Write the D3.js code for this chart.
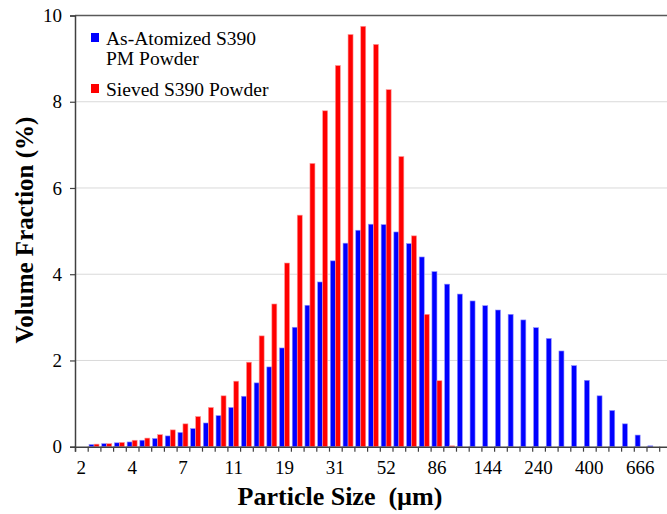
<!DOCTYPE html>
<html>
<head>
<meta charset="utf-8">
<script src="https://cdn.jsdelivr.net/npm/d3@7"></script>
<style>
  body { margin: 0; background: #fff; }
  text { font-family: "Liberation Serif", "Times New Roman", serif; }
</style>
</head>
<body>
<div id="chart"></div>
<script>
// particle size classes (only every 4th one is labelled on the axis)
var nClasses = 47;
var tickLabels = ["2", "4", "7", "11", "19", "31", "52", "86", "144", "240", "400", "666"];

// volume fraction (%) per size class
var atomized = [0, 0.05, 0.07, 0.09, 0.11, 0.15, 0.19, 0.25, 0.33, 0.42, 0.55, 0.72, 0.91, 1.17,
    1.48, 1.85, 2.29, 2.77, 3.28, 3.82, 4.31, 4.72, 5.02, 5.16, 5.15, 4.98, 4.71, 4.40, 4.06,
    3.77, 3.54, 3.38, 3.27, 3.17, 3.07, 2.94, 2.76, 2.51, 2.22, 1.88, 1.54, 1.18, 0.84, 0.53,
    0.27, 0.02, 0];
var sieved = [0, 0.06, 0.07, 0.10, 0.15, 0.20, 0.28, 0.39, 0.53, 0.70, 0.91, 1.18, 1.52, 1.96,
    2.57, 3.31, 4.26, 5.37, 6.57, 7.79, 8.84, 9.56, 9.75, 9.33, 8.28, 6.73, 4.89, 3.07, 1.53,
    0.02, 0, 0, 0, 0, 0, 0, 0, 0, 0, 0, 0, 0, 0, 0, 0, 0, 0];

var seriesNames = ["As-Atomized S390\nPM Powder", "Sieved S390 Powder"];
var seriesColors = ["#0000ff", "#ff0000"];
var seriesStroke = ["#8f8fff", "#ff9a9a"];

var width = 667, height = 514;
var plotLeft = 75, plotTop = 15.5, plotBottom = 446.7;
var step = 12.7;
var plotRight = plotLeft + step * nClasses;

var svg = d3.select("#chart")
    .append("svg")
    .attr("width", width)
    .attr("height", height);

var cats = d3.range(nClasses);

var x = d3.scaleBand()
    .domain(cats)
    .range([plotLeft, plotRight])
    .paddingInner(0)
    .paddingOuter(0);

var x1 = d3.scaleBand()
    .domain([0, 1])
    .range([0, x.bandwidth()])
    .paddingInner(0)
    .paddingOuter(0.27);

var y = d3.scaleLinear()
    .domain([0, 10])
    .range([plotBottom, plotTop]);

// gridlines
svg.append("g")
    .selectAll("line")
    .data([2, 4, 6, 8])
    .join("line")
    .attr("x1", plotLeft)
    .attr("x2", plotRight)
    .attr("y1", function(d) { return y(d); })
    .attr("y2", function(d) { return y(d); })
    .attr("stroke", "#d9d9d9")
    .attr("stroke-width", 1);

// top border
svg.append("line")
    .attr("x1", plotLeft).attr("x2", plotRight)
    .attr("y1", y(10)).attr("y2", y(10))
    .attr("stroke", "#595959")
    .attr("stroke-width", 1.5);

// bars
var rows = cats.map(function(i) { return [atomized[i], sieved[i]]; });

svg.append("g")
    .selectAll("g")
    .data(rows)
    .join("g")
    .attr("transform", function(d, i) { return "translate(" + x(i) + ",0)"; })
    .selectAll("rect")
    .data(function(d) { return d; })
    .join("rect")
    .attr("x", function(d, s) { return x1(s); })
    .attr("width", x1.bandwidth())
    .attr("y", function(d) { return y(d); })
    .attr("height", function(d) { return y(0) - y(d); })
    .attr("fill", function(d, s) { return seriesColors[s]; })
    .attr("stroke", function(d, s) { return seriesStroke[s]; })
    .attr("stroke-width", function(d) { return d > 0 ? 0.6 : 0; });

// y axis
var yAxis = svg.append("g")
    .attr("transform", "translate(" + plotLeft + ",0)")
    .call(d3.axisLeft(y).tickValues([0, 2, 4, 6, 8, 10]).tickSize(5).tickPadding(8));
yAxis.select(".domain").attr("stroke", "#404040").attr("stroke-width", 1.5);
yAxis.selectAll(".tick line").attr("stroke", "#404040").attr("stroke-width", 1.2);
yAxis.selectAll(".tick text").attr("font-size", 19).attr("fill", "#000");

// x axis: ticks on class boundaries
var xb = d3.scaleLinear().domain([0, nClasses]).range([plotLeft, plotRight]);
var xTicks = svg.append("g")
    .attr("transform", "translate(0," + plotBottom + ")")
    .call(d3.axisBottom(xb).tickValues(d3.range(0, nClasses + 1)).tickFormat("").tickSize(5));
xTicks.select(".domain").attr("stroke", "#404040").attr("stroke-width", 1.5);
xTicks.selectAll(".tick line").attr("stroke", "#404040").attr("stroke-width", 1.2);

// x axis labels on every 4th class
var xLabels = svg.append("g")
    .attr("transform", "translate(0," + plotBottom + ")")
    .call(d3.axisBottom(x)
        .tickValues(cats.filter(function(i) { return i % 4 === 0; }))
        .tickFormat(function(i) { return tickLabels[i / 4]; })
        .tickSize(0)
        .tickPadding(14));
xLabels.select(".domain").remove();
xLabels.selectAll(".tick text").attr("font-size", 19).attr("fill", "#000");

// axis titles
svg.append("text")
    .attr("x", 340)
    .attr("y", 505)
    .attr("text-anchor", "middle")
    .attr("font-size", 26)
    .attr("font-weight", "bold")
    .attr("xml:space", "preserve")
    .text("Particle Size  (\u00b5m)");

svg.append("text")
    .attr("transform", "translate(33,230) rotate(-90)")
    .attr("text-anchor", "middle")
    .attr("font-size", 25)
    .attr("font-weight", "bold")
    .text("Volume Fraction (%)");

// legend
var legend = svg.append("g");
var legendY = [33, 84];
seriesNames.forEach(function(name, s) {
    legend.append("rect")
        .attr("x", 91)
        .attr("y", legendY[s])
        .attr("width", 8)
        .attr("height", 9)
        .attr("fill", seriesColors[s]);
    var t = legend.append("text")
        .attr("x", 106)
        .attr("y", legendY[s] + 12)
        .attr("font-size", 19.5)
        .attr("fill", "#000");
    name.split("\n").forEach(function(line, k) {
        t.append("tspan")
            .attr("x", 106)
            .attr("dy", k === 0 ? 0 : 20)
            .text(line);
    });
});
</script>
</body>
</html>
